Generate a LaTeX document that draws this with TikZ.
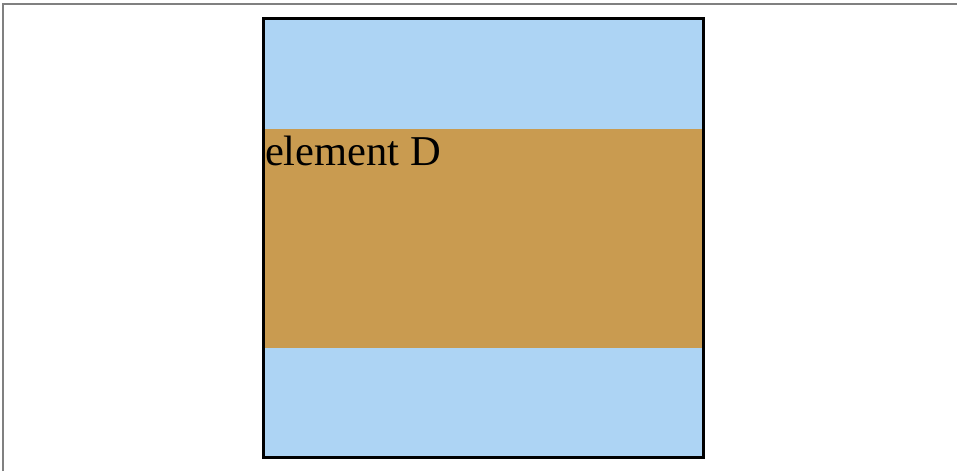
\documentclass[tikz,border=0pt]{standalone}
\usepackage{fontspec}
\setmainfont{Liberation Serif}
\definecolor{skyfill}{RGB}{173,212,244}
\definecolor{tanfill}{RGB}{201,155,80}
\definecolor{framegray}{RGB}{128,128,128}
\begin{document}
\begin{tikzpicture}[x=1pt,y=1pt,
  frameline/.style={draw=framegray,line width=1.3pt},
  outerbox/.style={draw=black,line width=3pt,outer sep=0pt},
  label/.style={inner sep=0pt,outer sep=0pt,anchor=base west,font=\fontsize{42.5}{46}\selectfont}]
\useasboundingbox (0,0) rectangle (957,471);
\fill[white] (0,0) rectangle (957,471);
% frame lines
\coordinate (ftl) at (3,467);
\coordinate (fbl) at (3,0);
\coordinate (ftr) at (957,467);
\draw[frameline] (fbl) -- (ftl) -- (ftr);
% box
\fill[skyfill] (263.5,13.5) rectangle (703.5,452.5);
\fill[tanfill] (263.5,123) rectangle (703.5,342);
\node[outerbox,minimum width=440pt,minimum height=439pt,inner sep=0pt,anchor=south west] (box) at (263.5,13.5) {};
\node[label] (lbl) at (265,305.3) {element D};
\end{tikzpicture}
\end{document}
